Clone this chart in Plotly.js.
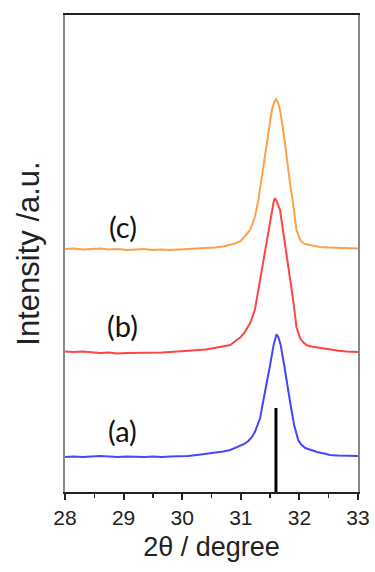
<!DOCTYPE html>
<html>
<head>
<meta charset="utf-8">
<script src="https://cdn.plot.ly/plotly-3.0.1.min.js"></script>
<style>html,body{margin:0;padding:0;background:#fff;}#chart{width:375px;height:572px;}</style>
</head>
<body>
<div id="chart"></div>
<script>
// Sample (c)
var xC = [28.00,28.15,28.30,28.45,28.60,28.75,28.90,29.05,29.20,29.35,29.50,29.65,29.80,29.95,30.10,30.25,30.40,30.55,30.70,30.80,30.90,31.00,31.05,31.10,31.16,31.20,31.24,31.30,31.36,31.41,31.47,31.53,31.57,31.60,31.63,31.67,31.73,31.78,31.84,31.90,31.95,32.00,32.04,32.10,32.18,32.35,32.50,32.65,32.80,33.00];
var yC = [243,243.5,242.5,243,243.5,242.5,243,242,242.5,243,242,242.5,242,242.5,243,243,243.5,244.5,245.5,247,248.5,251,254,258,262,268,275,292,315,335,359,382,390,392.7,390,382,359,335,309,285,262,254,250,248,247,245,244.5,244,244,243.5];
// Sample (b)
var xB = [28.00,28.15,28.30,28.45,28.60,28.75,28.90,29.05,29.20,29.35,29.50,29.65,29.80,29.95,30.10,30.25,30.40,30.55,30.70,30.82,30.93,31.00,31.07,31.16,31.24,31.30,31.36,31.41,31.47,31.53,31.56,31.58,31.61,31.67,31.73,31.78,31.84,31.90,31.95,32.01,32.06,32.12,32.20,32.35,32.50,32.65,32.80,33.00];
var yB = [140.5,140,140.5,139.5,139,139.5,138.5,139,139,139.5,139,139.5,140,140.5,141,141.5,142.5,144,145.5,147,152,155,160,169,182,202,222,242,262,282,290,293.7,291,282,259,235,212,189,165,154,150,147,145.5,144,142.5,141.5,140.5,140];
// Sample (a)
var xA = [28.00,28.15,28.30,28.45,28.60,28.75,28.90,29.05,29.20,29.35,29.50,29.65,29.80,29.95,30.10,30.25,30.40,30.55,30.70,30.82,30.90,30.99,31.06,31.13,31.19,31.24,31.33,31.38,31.44,31.50,31.56,31.59,31.61,31.64,31.68,31.74,31.79,31.85,31.91,31.98,32.03,32.10,32.20,32.30,32.42,32.52,32.65,32.80,33.00];
var yA = [35,35.5,35,35.5,36,35.5,35,35.5,35,35,35.5,35,35.5,35.5,36,37,38,39,40.5,42,44,46,48,51,55,60,74,90,107,127,147,155,157.7,155,147,127,107,87,67,52,47.5,44,42,40,38.5,37,36.5,36,36];
// Reference line
var refX = [31.6];
var refY = [84];
// Labels
var labelText = ['(a)','(b)','(c)'];
var labelY = [62, 167, 265.3];
var xTicks = [28,29,30,31,32,33];

var traces = [
  {x:xA, y:yA, mode:'lines', line:{color:'#4646ff', width:2}, hoverinfo:'skip'},
  {x:xB, y:yB, mode:'lines', line:{color:'#ff4444', width:2}, hoverinfo:'skip'},
  {x:xC, y:yC, mode:'lines', line:{color:'#ffa04a', width:2}, hoverinfo:'skip'}
];
refX.forEach(function(rx, i){
  traces.push({x:[rx, rx], y:[0, refY[i]], mode:'lines', line:{color:'#000', width:3}, hoverinfo:'skip'});
});

var annotations = labelText.map(function(t, i){
  return {x:28.985, y:labelY[i], xref:'x', yref:'y', text:t, showarrow:false,
    font:{family:'Lato, Noto Sans, sans-serif', size:29, color:'#111'}};
});

var layout = {
  width:375, height:572,
  margin:{l:65, r:17, t:15, b:80},
  paper_bgcolor:'#fff', plot_bgcolor:'#fff',
  showlegend:false,
  annotations: annotations,
  xaxis:{
    range:[28,33], tickvals:xTicks, ticktext:xTicks.map(String),
    showgrid:false, zeroline:false,
    showline:true, mirror:true, linecolor:'#222', linewidth:2,
    ticks:'outside', ticklen:6, tickwidth:2, tickcolor:'#222',
    minor:{dtick:0.5, ticks:'outside', ticklen:4, tickwidth:1.5, tickcolor:'#222'},
    tickfont:{family:'Liberation Sans, Arial, sans-serif', size:21, color:'#222'},
    title:{text:'2θ / degree', standoff:9, font:{family:'Liberation Sans, Arial, sans-serif', size:27, color:'#222'}}
  },
  yaxis:{
    range:[0,477], showticklabels:false, ticks:'', showgrid:false, zeroline:false,
    showline:true, mirror:true, linecolor:'#888', linewidth:2,
    title:{text:'Intensity /a.u.', standoff:14, font:{family:'Liberation Sans, Arial, sans-serif', size:31, color:'#222'}}
  }
};
Plotly.newPlot('chart', traces, layout, {staticPlot:true, displayModeBar:false});
</script>
</body>
</html>
